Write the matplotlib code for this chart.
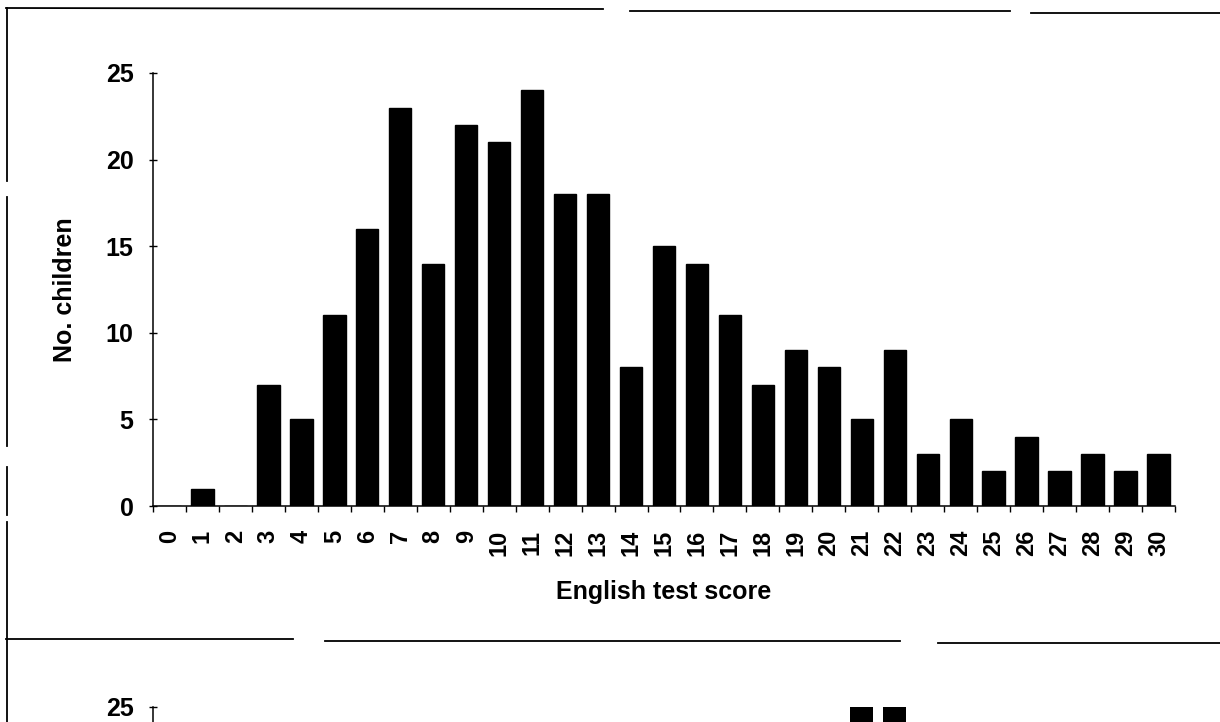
import matplotlib.pyplot as plt
from matplotlib.lines import Line2D
import numpy as np

plt.rcParams['font.family'] = ['Liberation Sans', 'DejaVu Sans']
plt.rcParams['font.weight'] = 'bold'

# English test score histogram (top panel)
scores = list(range(0, 31))
counts = [0, 1, 0, 7, 5, 11, 16, 23, 14, 22, 21, 24, 18, 18, 8, 15,
          14, 11, 7, 9, 8, 5, 9, 3, 5, 2, 4, 2, 3, 2, 3]

# second panel, only its top edge is visible in the page crop
lower_scores = [21, 22]
lower_counts = [25, 25]

y_ticks = [0, 5, 10, 15, 20, 25]
lower_y_ticks = [25]

W, H = 1220, 722
fig = plt.figure(figsize=(W / 100, H / 100), dpi=100)
fig.patch.set_facecolor('white')


def px_box(x0, y0, x1, y1):
    # pixel box (top-left origin) -> figure fraction rect
    return [x0 / W, 1 - y1 / H, (x1 - x0) / W, (y1 - y0) / H]


def style_axis(ax, ticks):
    ax.spines['top'].set_visible(False)
    ax.spines['right'].set_visible(False)
    for s in ('left', 'bottom'):
        ax.spines[s].set_linewidth(1.1)
    ax.set_xlim(-0.5, 30.5)
    ax.set_ylim(0, 25)
    ax.set_yticks(ticks)
    ax.tick_params(axis='y', direction='inout', length=6, width=1.0,
                   pad=11, labelsize=18)
    ax.set_facecolor('none')


ax = fig.add_axes(px_box(153, 73, 1175, 506))
style_axis(ax, y_ticks)
ax.bar(scores, counts, width=0.68, color='black', edgecolor='black')

ax.set_xticks(scores)
ax.set_xticklabels([str(s) for s in scores], rotation=90)
ax.set_xticks(np.arange(-0.5, 31, 1), minor=True)
ax.tick_params(axis='x', which='major', length=0, pad=17, labelsize=17)
ax.tick_params(axis='x', which='minor', direction='out', length=4, width=1.0)

ax.set_xlabel('English test score', fontsize=18, fontweight='bold')
ax.set_ylabel('No. children', fontsize=18, fontweight='bold')
ax.xaxis.set_label_coords(0.5, -0.172)
ax.yaxis.set_label_coords(-0.074, 0.5)

# lower panel, cut off by the bottom of the page
ax2 = fig.add_axes(px_box(153, 707, 1175, 1140))
style_axis(ax2, lower_y_ticks)
ax2.spines['bottom'].set_visible(False)
ax2.set_xticks([])
ax2.bar(lower_scores, lower_counts, width=0.7, color='black')

# page frame lines from the scan
frame = [
    ((6, 603), (8, 9)),
    ((630, 1010), (11, 11)),
    ((1031, 1220), (13, 13)),
    ((7, 7), (8, 181)),
    ((7, 7), (197, 446)),
    ((7, 7), (467, 515)),
    ((7, 7), (522, 722)),
    ((6, 293), (639, 639)),
    ((325, 900), (641, 641)),
    ((938, 1220), (643, 643)),
]
for (x0, x1), (y0, y1) in frame:
    fig.add_artist(Line2D([x0 / W, x1 / W], [1 - y0 / H, 1 - y1 / H],
                          color='black', linewidth=1.3,
                          transform=fig.transFigure))

fig.savefig('out.png', dpi=100)
